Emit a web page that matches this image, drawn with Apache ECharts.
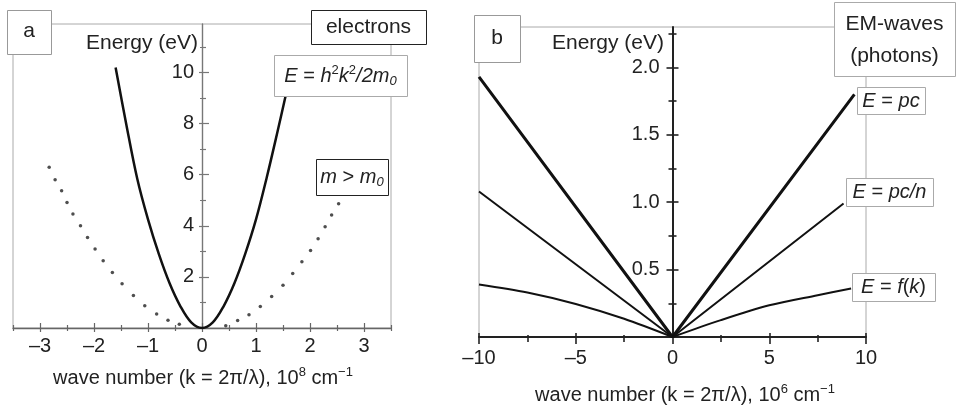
<!DOCTYPE html>
<html><head><meta charset="utf-8">
<script src="https://cdn.jsdelivr.net/npm/echarts@6/dist/echarts.min.js"></script>
<style>html,body{margin:0;padding:0;background:#fff}#c{width:956px;height:411px}</style>
</head><body><div id="c"></div>
<script>
// ---------- Panel a: electrons ----------
const elecK = [-1.6,-1.4,-1.2,-1.0,-0.8,-0.6,-0.4,-0.2,0,0.2,0.4,0.6,0.8,1.0,1.2,1.4,1.55];
const elecE = [10.2,7.95,5.85,4.25,2.9,1.75,0.85,0.22,0,0.22,0.85,1.75,2.9,4.25,5.9,7.7,9.1];
const heavyK = [-2.83,-2.72,-2.60,-2.50,-2.39,-2.25,-2.12,-1.98,-1.83,-1.66,-1.48,-1.27,-1.06,-0.84,-0.63,-0.42,0.44,0.66,0.87,1.08,1.29,1.50,1.68,1.85,2.01,2.15,2.28,2.40,2.53];
const heavyE = [6.29,5.80,5.37,4.91,4.46,4.00,3.54,3.09,2.63,2.17,1.73,1.27,0.87,0.55,0.30,0.15,0.09,0.29,0.52,0.84,1.23,1.67,2.13,2.59,3.03,3.49,3.96,4.42,4.86];
const aXMajor = [-3,-2,-1,0,1,2,3];
const aXMinor = [-3.5,-2.5,-1.5,-0.5,0.5,1.5,2.5,3.5];
const aYMajor = [2,4,6,8,10];
const aYMinor = [1,3,5,7,9,11];
const aYLabels = [2,4,6,8,10];

// ---------- Panel b: photons ----------
const pcK = [-10,0,9.4];
const pcE = [1.93,0,1.80];
const pcnK = [-10,0,8.84];
const pcnE = [1.08,0,0.99];
const fkLeftK = [-10,-7.5,-5,-2.5,0];
const fkLeftE = [0.39,0.33,0.245,0.135,0];
const fkRightK = [0,2.5,5,7.5,9.23];
const fkRightE = [0,0.125,0.235,0.31,0.36];
const bXMajor = [-10,-5,0,5,10];
const bXMinor = [-7.5,-2.5,2.5,7.5];
const bYMajor = [0.5,1.0,1.5,2.0];
const bYMinor = [0.25,0.75,1.25,1.75,2.25];
const bYLabels = [0.5,1.0,1.5,2.0];

const FONT = 'Liberation Sans, Arial, sans-serif';
const TXT = '#222';
const zip = (a, b) => a.map((v, i) => [v, b[i]]);
const dash = v => String(v).replace('-', '\u2013');

// grid layouts
const GA = {left:13, top:24, width:378, height:304};
const GB = {left:479, top:27, width:387, height:310};
const AX = [-3.5, 3.5], BX = [-10, 10];
// y axis sits at k = 0: shift it inward from the grid's left edge
const yOffA = -GA.width * (0 - AX[0]) / (AX[1] - AX[0]);
const yOffB = -GB.width * (0 - BX[0]) / (BX[1] - BX[0]);

function axisSet(dim, grid, min, max, color, width, major, minor, len, labels, fmt, margin, offset) {
  // len: [majorInside, majorOutside, minorInside, minorOutside]
  const base = () => {
    const o = {type:'value', gridIndex:grid, min:min, max:max, splitLine:{show:false},
      axisLine:{show:false, onZero:false, lineStyle:{color:color, width:width}},
      axisLabel:{show:false}, axisPointer:{show:false}};
    o.position = dim === 'x' ? 'bottom' : 'left';
    o.offset = offset;
    return o;
  };
  const mk = (vals, inside, length, main) => {
    const o = base();
    o.axisTick = {show:true, customValues:vals, inside:inside, length:length, lineStyle:{color:color, width:width > 1.5 ? 1.6 : 1.2}};
    if (main) {
      o.axisLine.show = true;
      o.axisLabel = {show:true, customValues:labels, formatter:fmt, margin:margin, color:TXT, fontSize:20, fontFamily:FONT};
    }
    return o;
  };
  return [mk(major, false, len[1], true), mk(major, true, len[0], false), mk(minor, false, len[3], false), mk(minor, true, len[2], false)];
}

const xAxes = [].concat(
  axisSet('x', 0, AX[0], AX[1], '#666', 1.4, aXMajor, aXMinor, [5,4,3,3], aXMajor, dash, 8, 0),
  axisSet('x', 1, BX[0], BX[1], '#222', 2, bXMajor, bXMinor, [4,7,2,5], bXMajor, dash, 11, 0)
);
const yAxes = [].concat(
  axisSet('y', 0, 0, 11.9, '#777', 1.4, aYMajor, aYMinor, [7,3,4,2], aYLabels, v => String(v), 8, yOffA),
  axisSet('y', 1, 0, 2.3, '#222', 2, bYMajor, bYMinor, [6,6,4,4], bYLabels, v => v.toFixed(1), 13, yOffB)
);

const rich = {
  n:{fontSize:20, fontFamily:FONT, fill:TXT, lineHeight:24},
  i:{fontSize:20, fontFamily:FONT, fontStyle:'italic', fill:TXT, lineHeight:24},
  sup:{fontSize:13, fontFamily:FONT, fill:TXT, lineHeight:13, verticalAlign:'top'},
  sub:{fontSize:13, fontFamily:FONT, fontStyle:'italic', fill:TXT, lineHeight:13, verticalAlign:'bottom'}
};
function box(x, y, w, h, stroke) {
  return {type:'rect', z:100, shape:{x:x + 0.5, y:y + 0.5, width:w, height:h}, style:{fill:'#fff', stroke:stroke, lineWidth:1}};
}
function txt(x, y, text, align, size, extra) {
  return {type:'text', z:101, x:x, y:y, style:Object.assign({text:text, rich:rich, fill:TXT, fontSize:size || 20, fontFamily:FONT,
    align:align || 'center', verticalAlign:'middle'}, extra || {})};
}
const lineSeries = (xi, k, e, w, smooth) => ({type:'line', xAxisIndex:xi, yAxisIndex:xi, data:zip(k, e), showSymbol:false,
  smooth:smooth, lineStyle:{color:'#111', width:w}, silent:true});

const option = {
  animation:false,
  backgroundColor:'#fff',
  grid:[
    Object.assign({show:true, borderColor:'#aaa', borderWidth:1, backgroundColor:'transparent', containLabel:false, outerBoundsMode:'none'}, GA),
    Object.assign({show:true, borderColor:'#aaa', borderWidth:1, backgroundColor:'transparent', containLabel:false, outerBoundsMode:'none'}, GB)
  ],
  xAxis:xAxes,
  yAxis:yAxes,
  series:[
    {type:'scatter', xAxisIndex:0, yAxisIndex:0, data:zip(heavyK, heavyE), symbol:'circle', symbolSize:3.5, itemStyle:{color:'#222'}, silent:true},
    lineSeries(0, elecK, elecE, 2.5, 0.35),
    lineSeries(4, pcK, pcE, 3, false),
    lineSeries(4, pcnK, pcnE, 2, false),
    lineSeries(4, fkLeftK, fkLeftE, 2, 0.3),
    lineSeries(4, fkRightK, fkRightE, 2, 0.3)
  ],
  graphic:[
    // panel a
    box(7, 10, 44, 44, '#999'), txt(29, 31, 'a', 'center', 21),
    box(311, 10, 115, 34, '#222'), txt(368.5, 27, 'electrons', 'center', 21),
    box(274, 55, 133, 41, '#aaa'), txt(340.5, 76, '{i|E} {n|=} {i|h}{sup|2}{i|k}{sup|2}{i|/2m}{sub|0}', 'center', 20),
    box(316, 159, 72, 36, '#222'), txt(352, 177, '{i|m} {n|>} {i|m}{sub|0}', 'center', 20),
    txt(198, 43, 'Energy (eV)', 'right', 21),
    txt(203, 378, '{n|wave number (k = 2\u03c0/\u03bb), 10}{sup|8}{n| cm}{sup|\u22121}', 'center', 20),
    // panel b
    box(474, 15, 46, 47, '#999'), txt(497, 38.5, 'b', 'center', 21),
    box(834, 2, 121, 74, '#aaa'), txt(894.5, 40, 'EM-waves\n(photons)', 'center', 21, {lineHeight:32}),
    box(857, 87, 68, 27, '#aaa'), txt(891, 101, '{i|E} {n|=} {i|pc}', 'center', 20),
    box(846, 178, 87, 28, '#aaa'), txt(889.5, 192, '{i|E} {n|=} {i|pc/n}', 'center', 20),
    box(852, 273, 83, 28, '#aaa'), txt(893.5, 287, '{i|E} {n|=} {i|f}{n|(}{i|k}{n|)}', 'center', 20),
    txt(664, 43, 'Energy (eV)', 'right', 21),
    txt(685, 395, '{n|wave number (k = 2\u03c0/\u03bb), 10}{sup|6}{n| cm}{sup|\u22121}', 'center', 20)
  ]
};
const chart = echarts.init(document.getElementById('c'), null, {renderer:'canvas'});
chart.setOption(option);
</script>
</body></html>
